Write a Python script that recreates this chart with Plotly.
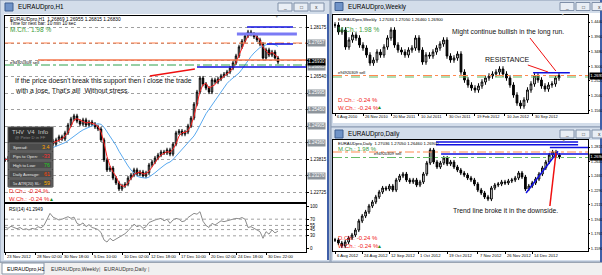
import numpy as np
import pandas as pd
import plotly.graph_objects as go

W, H = 602, 275
def px(x): return x / W
def py(y): return 1 - y / H

FONT = "Liberation Sans, Arial, sans-serif"

# ---------------- data ----------------
# H1 chart (EURAUDpro,H1) closes, one value per bar
h1_close = [1.2380, 1.2386, 1.2376, 1.2393, 1.2399, 1.2390, 1.2406, 1.2413, 1.2403, 1.2419,
            1.2426, 1.2416, 1.2429, 1.2423, 1.2436, 1.2442, 1.2432, 1.2446, 1.2456, 1.2449,
            1.2469, 1.2495, 1.2515, 1.2525, 1.2508, 1.2498, 1.2512, 1.2495, 1.2505, 1.2498,
            1.2489, 1.2482, 1.2446, 1.2380, 1.2347, 1.2353, 1.2320, 1.2304, 1.2284, 1.2294,
            1.2300, 1.2320, 1.2330, 1.2347, 1.2333, 1.2340, 1.2327, 1.2337, 1.2363, 1.2373,
            1.2386, 1.2396, 1.2406, 1.2403, 1.2413, 1.2399, 1.2432, 1.2469, 1.2475, 1.2465,
            1.2472, 1.2492, 1.2518, 1.2564, 1.2604, 1.2650, 1.2630, 1.2617, 1.2604, 1.2644,
            1.2637, 1.2647, 1.2657, 1.2663, 1.2670, 1.2683, 1.2700, 1.2723, 1.2753, 1.2772,
            1.2789, 1.2802, 1.2795, 1.2786, 1.2776, 1.2762, 1.2716, 1.2743, 1.2726, 1.2736,
            1.2716, 1.2703]
h1_rsi = [51, 48, 53, 50, 47, 50, 45, 47, 44, 48,
          46, 52, 49, 55, 70, 84, 75, 72, 68, 70,
          74, 76, 72, 75, 60, 56, 61, 52, 57, 50,
          48, 45, 38, 20, 15, 24, 18, 22, 27, 32,
          35, 42, 50, 58, 52, 55, 48, 52, 62, 66,
          68, 70, 72, 66, 70, 60, 68, 72, 70, 64,
          66, 74, 80, 84, 82, 88, 65, 55, 50, 60,
          56, 62, 66, 64, 66, 68, 70, 72, 71, 74,
          70, 50, 52, 48, 45, 40, 24, 40, 34, 44,
          37, 41.29]
h1_dates = ["23 Nov 2012", "28 Nov 02:00", "30 Nov 18:00", "5 Dec 10:00", "10 Dec 02:00",
            "12 Dec 18:00", "17 Dec 10:00", "20 Dec 02:00", "24 Dec 18:00", "30 Dec 22:00"]
h1_date_idx = [0, 10, 19, 29, 39, 48, 58, 68, 77, 87]
h1_ticks = [1.22725, 1.23270, 1.23815, 1.24360, 1.24905, 1.25450, 1.25995, 1.26540, 1.27085, 1.27630, 1.28175]
h1_boxed = [1.23270, 1.24360, 1.24905, 1.25450, 1.25995]
h1_last = 1.2703
rsi_levels = [30, 45, 55, 70]
rsi_ticks = [0, 30, 45, 55, 70, 100]

# Weekly chart closes (two weeks per value)
wk_close = [1.4342, 1.4114, 1.4179, 1.3624, 1.3852, 1.4016, 1.3918, 1.3689, 1.3591, 1.3363,
            1.3101, 1.3199, 1.3460, 1.3363, 1.3624, 1.3918, 1.4179, 1.3689, 1.3526, 1.3460,
            1.3363, 1.3526, 1.3591, 1.3918, 1.3526, 1.3134, 1.3363, 1.3330, 1.3460, 1.3591,
            1.3722, 1.3852, 1.3330, 1.3199, 1.3265, 1.3395, 1.2807, 1.2546, 1.2383, 1.2285,
            1.2220, 1.2350, 1.2481, 1.2612, 1.2677, 1.2742, 1.2807, 1.2905, 1.2742, 1.2612,
            1.2383, 1.2057, 1.1795, 1.1697, 1.1893, 1.2220, 1.2416, 1.2677, 1.2546, 1.2350,
            1.2252, 1.2383, 1.2416, 1.2612, 1.2693]
wk_dates = ["6 Aug 2010", "26 Nov 2010", "20 Mar 2011", "10 Jul 2011", "30 Oct 2011",
            "19 Feb 2012", "10 Jun 2012", "30 Sep 2012"]
wk_date_idx = [0, 8, 16, 24, 32, 40, 48.5, 56.5]
wk_ticks = [1.1560, 1.2040, 1.2520, 1.3000, 1.3480, 1.3960, 1.4440]
wk_last = 1.2693

# Daily chart closes
d1_close = [1.1693, 1.1656, 1.1620, 1.1668, 1.1717, 1.1753, 1.1813, 1.1922, 1.1982, 1.2031,
            1.2103, 1.2151, 1.2212, 1.2272, 1.2320, 1.2308, 1.2344, 1.2296, 1.2417, 1.2465,
            1.2489, 1.2417, 1.2393, 1.2417, 1.2356, 1.2393, 1.2489, 1.2622, 1.2779, 1.2634,
            1.2574, 1.2622, 1.2682, 1.2610, 1.2634, 1.2574, 1.2537, 1.2501, 1.2477, 1.2441,
            1.2417, 1.2368, 1.2296, 1.2260, 1.2212, 1.2187, 1.2320, 1.2356, 1.2368, 1.2393,
            1.2381, 1.2405, 1.2417, 1.2441, 1.2501, 1.2453, 1.2308, 1.2344, 1.2381, 1.2429,
            1.2489, 1.2562, 1.2634, 1.2718, 1.2755, 1.2718, 1.2694]
d1_dates = ["6 Aug 2012", "24 Aug 2012", "12 Sep 2012", "1 Oct 2012", "19 Oct 2012",
            "7 Nov 2012", "26 Nov 2012", "14 Dec 2012"]
d1_date_idx = [0, 8, 16, 24.5, 33, 42, 50, 58]
d1_ticks = [1.1590, 1.1765, 1.1940, 1.2115, 1.2290, 1.2465, 1.2640, 1.2815]
d1_last = 1.2694

# user-drawn objects (price levels / segments: x0, x1 in bar index)
h1_blue_segments = [(80.7, 96.0, 1.28185, 1.28185), (87.3, 96.0, 1.27624, 1.27624), (64.0, 100.4, 1.26865, 1.26865)]
h1_lavender_segment = (77.3, 97.3, 1.27954, 1.27954)
h1_orange_dashdot = 1.27657
h1_orange_solid = 1.27096
h1_green_dashdot = 1.26931
h1_red_line = (48.3, 63.3, 1.26568, 1.26799)

wk_orange = 1.2693
wk_green = 1.2644
wk_blue = (56.6, 67.1, 1.2785, 1.2785)
wk_red_lines = [(55.1, 60.9, 1.3036, 1.2807), (55.7, 63.1, 1.3918, 1.2840)]

d1_blue_segments = [(29.7, 71.5, 1.28754, 1.28754), (29.7, 71.5, 1.28428, 1.28428),
                    (63.2, 74.5, 1.28090, 1.28090), (31.2, 74.5, 1.27305, 1.27305)]
d1_orange = 1.27547
d1_green = 1.26883
d1_trend = (56.2, 65.6, 1.22598, 1.27631)
d1_red_line = (63.2, 65.0, 1.21029, 1.27426)

# info panel
panel_rows = [("Spread:", "3.4", "#FFA500"), ("Pips to Open:", "-33", "#FF3030"),
              ("High to Low:", "76", "#22CC22"), ("Daily Average:", "61", "#FF4500"),
              ("5x ATR(20) SL:", "59", "#FFB000")]


# ---------------- helpers ----------------
def ohlc(closes, wick):
    c = np.array(closes, dtype=float)
    o = np.r_[c[0], c[:-1]]
    hi = np.maximum(o, c) + wick
    lo = np.minimum(o, c) - wick
    return o, hi, lo, c


def candle(xa, ya, closes, wick):
    o, hi, lo, c = ohlc(closes, wick)
    return go.Candlestick(x=list(range(len(c))), open=o, high=hi, low=lo, close=c,
                          xaxis=xa, yaxis=ya, whiskerwidth=0,
                          increasing=dict(line=dict(color="black", width=1), fillcolor="white"),
                          decreasing=dict(line=dict(color="black", width=1), fillcolor="black"),
                          showlegend=False, hoverinfo="skip")


fig = go.Figure()
fig.add_trace(candle("x", "y", h1_close, 0.0007))
s = pd.Series(h1_close)
idx = list(range(len(h1_close)))
fig.add_trace(go.Scatter(x=idx, y=s.rolling(12, min_periods=1).mean(), mode="lines",
                         line=dict(color="#5AAAF0", width=1), xaxis="x", yaxis="y", hoverinfo="skip"))
fig.add_trace(go.Scatter(x=idx, y=s.rolling(3, min_periods=1).mean(), mode="lines",
                         line=dict(color="#FF2020", width=1), xaxis="x", yaxis="y", hoverinfo="skip"))
fig.add_trace(go.Scatter(x=idx, y=h1_rsi, mode="lines", line=dict(color="#8C8C8C", width=1),
                         xaxis="x2", yaxis="y2", hoverinfo="skip"))
fig.add_trace(candle("x3", "y3", wk_close, 0.009))
fig.add_trace(candle("x4", "y4", d1_close, 0.0025))

shapes = []
annos = []


def rect(x0, y0, x1, y1, fill, line=None, lw=1, layer="below"):
    shapes.append(dict(type="rect", xref="paper", yref="paper", x0=px(x0), x1=px(x1), y0=py(y1), y1=py(y0),
                       fillcolor=fill, line=dict(color=line or fill, width=lw if line else 0), layer=layer))


def text(x, y, t, size=6, color="black", anchor="left", xref="paper", yref="paper", **kw):
    annos.append(dict(x=px(x) if xref == "paper" else x, y=py(y) if yref == "paper" else y,
                      xref=xref, yref=yref, text=t, showarrow=False, xanchor=anchor, yanchor="middle",
                      font=dict(size=size, color=color, family=FONT), **kw))


def seg(xa, ya, x0, x1, y0, y1, color, width=1, dash="solid"):
    shapes.append(dict(type="line", xref=xa, yref=ya, x0=x0, x1=x1, y0=y0, y1=y1,
                       line=dict(color=color, width=width, dash=dash), layer="above"))


def full(xa, ya, y, color, width=1, dash="solid"):
    shapes.append(dict(type="line", xref=xa + " domain", yref=ya, x0=0, x1=1, y0=y, y1=y,
                       line=dict(color=color, width=width, dash=dash), layer="above"))


# ------------- window chrome -------------
FRAME = "#D3DDEA"
rect(0, 262, 602, 275, "#F0F0F0")
shapes.append(dict(type="line", xref="paper", yref="paper", x0=0, x1=1, y0=py(262.5), y1=py(262.5),
                   line=dict(color="#9AA4B2", width=1)))
for (x0, y0, x1, y1) in [(0, 0, 330, 262), (331, 0, 602, 127), (331, 127, 602, 262)]:
    rect(x0, y0, x1, y1, FRAME, "#8A9AB2")
rect(4, 14, 327, 260, "white")
rect(333, 13, 600, 123, "white")
rect(333, 140, 600, 260, "white")
rect(327, 14, 329, 260, "#3F5FA8")
rect(600, 0, 602, 262, "#3F5FA8")
for (ty, tx, title, bx) in [(7, 16, "EURAUDpro,H1", 278), (6.5, 346, "EURAUDpro,Weekly", 560),
                            (134, 346, "EURAUDpro,Daily", 560)]:
    rect(tx - 11, ty - 4, tx - 3, ty + 4, "#6F93C8", "#3E5E90")
    text(tx, ty, title, 6.3)
    for k, g in enumerate(["_", "□", "x"]):
        rect(bx + 16 * k, ty - 4, bx + 16 * k + 14, ty + 4, "#E9EEF5", "#7F8FA8")
        text(bx + 16 * k + 7, ty, g, 5, "#333", anchor="center")
# tabs
rect(2, 263, 44, 274, "white", "#8896A8")
text(5, 268.5, "EURAUDpro,H1", 5.2)
text(49, 268.5, "EURAUDpro,Weekly", 5.2, "#333")
text(97, 268.5, "|", 5.2, "#666")
text(102, 268.5, "EURAUDpro,Daily", 5.2, "#333")
text(146, 268.5, "|", 5.2, "#666")

# ------------- H1 objects -------------
full("x", "y", h1_orange_dashdot, "#FF7A45", 1, "dashdot")
seg("x", "y", 11, 100.4, h1_orange_solid, h1_orange_solid, "#F4744A", 1.5)
full("x", "y", h1_green_dashdot, "#2FA04A", 1, "dashdot")
x0, x1, y0, y1 = h1_lavender_segment
seg("x", "y", x0, x1, y0, y1, "#7B7BF5", 3)
for (x0, x1, y0, y1) in h1_blue_segments:
    seg("x", "y", x0, x1, y0, y1, "#1010E0", 1.5)
x0, x1, y0, y1 = h1_red_line
seg("x", "y", x0, x1, y0, y1, "#F01010", 1.5)
for lv in rsi_levels:
    full("x2", "y2", lv, "#A0A0A0", 1, "dot")

text(8, 19, "EURAUDpro,H1  1.26869 1.26955 1.26815 1.26830", 4.8)
text(8, 23.8, "Time for next bar: 10 min 10 sec", 4.6)
text(8, 29.5, "M.Ch.: 1.98 %", 6.5, "#3A9A3A")
text(8, 62, "e94920309 sell", 4.3)
text(13, 81, "If the price doesn't break this support then I close the trade", 6.8, "#111")
text(13, 90, "with a lose. That's all!  Without stress.", 6.8, "#111")
text(276, 16.5, "▼", 3.5, "#999", anchor="center")
text(7, 209, "RSI(14) 41.2949", 4.6)
text(7, 191, "D.Ch.: -0.24 %", 6, "#F02020")
text(7, 199, "W.Ch.: -0.24 %", 6, "#F02020")
text(47, 198.5, "▲", 5, "#1A8A1A")

# info panel
rect(8, 127, 53, 187, "#2E2E2E", "#555", layer="above")
text(30.5, 132, "THV  V4  Info", 6, "#C8C8C8", anchor="center")
text(30.5, 137.5, "@ Peter D in FF", 4.2, "#8A8A8A", anchor="center")
for k, (lab, val, col) in enumerate(panel_rows):
    y0 = 143 + 9 * k
    rect(9, y0, 52, y0 + 8, "#4B4B4B", "#6E6E6E", layer="above")
    text(10.5, y0 + 4, lab, 4.1, "#E6E6E6")
    text(51.5, y0 + 4, val, 5.4, col, anchor="right")

# axis value boxes H1 (tick labels at these levels are replaced by boxed labels)
boxed_all = h1_boxed + [h1_orange_dashdot, h1_blue_segments[2][2]]
for v in boxed_all:
    text(306.5, v, f"{v:.5f}", 4.5, "white", yref="y", bgcolor="#8E959C", borderpad=0.3)
text(306.5, h1_last, "1.26930", 4.5, "white", yref="y", bgcolor="black", borderpad=0.3)

for lab, xi in zip(h1_dates, h1_date_idx):
    annos.append(dict(x=xi, xref="x2", y=py(256), yref="paper", text=lab, showarrow=False, xanchor="left",
                      yanchor="middle", xshift=0, font=dict(size=4.2, family=FONT)))

# ------------- Weekly objects -------------
full("x3", "y3", wk_orange, "#FF8A50", 1.2, "dashdot")
full("x3", "y3", wk_green, "#66BB66", 1.2, "dash")
x0, x1, y0, y1 = wk_blue
seg("x3", "y3", x0, x1, y0, y1, "#1010E0", 1.5)
for (x0, x1, y0, y1) in wk_red_lines:
    seg("x3", "y3", x0, x1, y0, y1, "#F01010", 1)
text(336, 19, "EURAUDpro,Weekly  1.27036 1.27050 1.26460 1.26900", 4.2)
text(336, 29.5, "M.Ch.: 1.98 %", 6.5, "#3A9A3A")
text(336, 73, "e94920309 sell", 4.0)
text(336, 100, "D.Ch.: -0.24 %", 6, "#F02020")
text(336, 108, "W.Ch.: -0.24 %", 6, "#F02020")
text(375, 107.5, "▲", 5, "#1A8A1A")
text(508, 32, "Might continue bullish in the long run.", 6.8, "#111", anchor="center")
text(483, 60, "RESISTANCE", 7, "#111")
text(562, 15, "▼", 3.5, "#999", anchor="center")
text(588.5, wk_last, f"{wk_last:.4f}", 4.3, "white", yref="y3", bgcolor="black", borderpad=0.3)
for lab, xi in zip(wk_dates, wk_date_idx):
    annos.append(dict(x=xi, xref="x3", y=py(116.5), yref="paper", text=lab, showarrow=False, xanchor="left",
                      yanchor="middle", xshift=0, font=dict(size=4.0, family=FONT)))

# ------------- Daily objects -------------
full("x4", "y4", d1_orange, "#FF8A50", 1.2, "dashdot")
full("x4", "y4", d1_green, "#66BB66", 1.2, "dashdot")
for (x0, x1, y0, y1) in d1_blue_segments:
    seg("x4", "y4", x0, x1, y0, y1, "#1010E0", 1.5)
x0, x1, y0, y1 = d1_trend
seg("x4", "y4", x0, x1, y0, y1, "#1010E0", 1.5)
x0, x1, y0, y1 = d1_red_line
seg("x4", "y4", x0, x1, y0, y1, "#F01010", 1.5)
text(336, 143.5, "EURAUDpro,Daily  1.27036 1.27050 1.26460 1.26900", 4.2)
text(336, 149, "M.Ch.: 1.98 %", 6.0, "#3A9A3A")
text(372, 153.5, "e94920309 sell", 4.0)
text(336, 238, "D.Ch.: -0.24 %", 6, "#F02020")
text(336, 246, "W.Ch.: -0.24 %", 6, "#F02020")
text(375, 245.5, "▲", 5, "#1A8A1A")
text(505, 211, "Trend line broke it in the downside.", 6.8, "#111", anchor="center")
text(563, 141, "▼", 3.5, "#999", anchor="center")
text(588.5, d1_last, f"{d1_last:.4f}", 4.3, "white", yref="y4", bgcolor="black", borderpad=0.3)
for lab, xi in zip(d1_dates, d1_date_idx):
    annos.append(dict(x=xi, xref="x4", y=py(255), yref="paper", text=lab, showarrow=False, xanchor="left",
                      yanchor="middle", xshift=0, font=dict(size=4.2, family=FONT)))

# ------------- axes -------------
base = dict(showgrid=False, zeroline=False, showline=True, linecolor="black", linewidth=1, mirror=True,
            fixedrange=True, automargin=False, tickfont=dict(size=4.5, family=FONT, color="black"),
            ticks="outside", ticklen=2, tickcolor="black")


def yax(domain, rng, anchor, tickvals, fmt, grid=False, hide=(), size=4.5, ticklen=2):
    labels = []
    for v in tickvals:
        near = any(abs(v - b) < 0.0012 for b in hide)
        labels.append("" if near else fmt.format(v))
    d = dict(base, domain=domain, range=rng, anchor=anchor, side="right", tickvals=tickvals,
             ticktext=labels, ticklen=ticklen, tickfont=dict(size=size, family=FONT, color="black"))
    if grid:
        d.update(showgrid=True, gridcolor="#A0A0A0", griddash="dot", gridwidth=1)
    return d


def xax(domain, rng, anchor, tickvals):
    return dict(base, domain=domain, range=rng, anchor=anchor, tickvals=tickvals, showticklabels=False,
                rangeslider=dict(visible=False))


fig.update_layout(
    width=W, height=H, margin=dict(l=0, r=0, t=0, b=0), autosize=False,
    paper_bgcolor=FRAME, plot_bgcolor="rgba(0,0,0,0)", showlegend=False,
    font=dict(family=FONT, size=6, color="black"),
    xaxis=xax([px(5), px(306)], [0, 100.33], "y", []),
    yaxis=yax([py(203), py(16)], [1.22377, 1.28548], "x", h1_ticks, "{:.5f}", grid=True,
              hide=boxed_all + [h1_last]),
    xaxis2=xax([px(5), px(306)], [0, 100.33], "y2", h1_date_idx),
    yaxis2=yax([py(252), py(203)], [-8.9, 108.9], "x2", rsi_ticks, "{:.0f}"),
    xaxis3=xax([px(333), px(588)], [-0.571, 72.29], "y3", wk_date_idx),
    yaxis3=yax([py(112.7), py(15)], [1.14786, 1.46686], "x3", wk_ticks, "{:.4f}", size=4.0, ticklen=1),
    xaxis4=xax([px(333), px(588)], [-0.588, 74.41], "y4", d1_date_idx),
    yaxis4=yax([py(251), py(140)], [1.15597, 1.28995], "x4", d1_ticks, "{:.4f}", size=4.0, ticklen=1),
    shapes=shapes, annotations=annos,
)
fig.write_html("out.html")
